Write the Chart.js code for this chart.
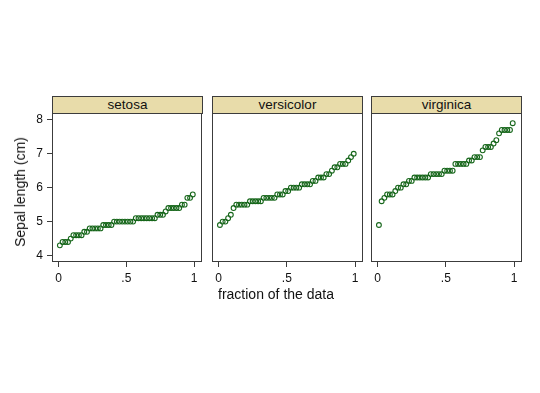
<!DOCTYPE html>
<html>
<head>
<meta charset="utf-8">
<script src="https://cdn.jsdelivr.net/npm/chart.js@4"></script>
<style>
  body { margin: 0; background: #fff; font-family: "Liberation Sans", Arial, sans-serif; }
  #wrap { position: relative; width: 540px; height: 393px; overflow: hidden; }
  canvas { position: absolute; }
  .strip { position: absolute; top: 96px; height: 18px; width: 151px; box-sizing: border-box;
           background: #e8dcaa; border: 1px solid #3c3c3c; text-align: center;
           font-size: 13.5px; line-height: 16px; color: #111; }
  .lbl { position: absolute; font-size: 14px; color: #111; white-space: nowrap; }
</style>
</head>
<body>
<div id="wrap">
  <div class="strip" style="left:52px">setosa</div>
  <div class="strip" style="left:212px">versicolor</div>
  <div class="strip" style="left:371px">virginica</div>
  <canvas id="c0" width="204" height="180" style="left:0px;top:112px"></canvas>
  <canvas id="c1" width="153" height="180" style="left:211px;top:112px"></canvas>
  <canvas id="c2" width="153" height="180" style="left:370px;top:112px"></canvas>
  <div class="lbl" style="left:276px;top:286px;transform:translateX(-50%)">fraction of the data</div>
  <div class="lbl" style="left:20px;top:192px;transform:translate(-50%,-50%) rotate(-90deg)">Sepal length (cm)</div>
</div>
<script>
// sorted sepal lengths per species
const setosa = [4.3,4.4,4.4,4.4,4.5,4.6,4.6,4.6,4.6,4.7,4.7,4.8,4.8,4.8,4.8,4.8,4.9,4.9,4.9,4.9,
  5.0,5.0,5.0,5.0,5.0,5.0,5.0,5.0,5.1,5.1,5.1,5.1,5.1,5.1,5.1,5.1,5.2,5.2,5.2,5.3,
  5.4,5.4,5.4,5.4,5.4,5.5,5.5,5.7,5.7,5.8];
const versicolor = [4.9,5.0,5.0,5.1,5.2,5.4,5.5,5.5,5.5,5.5,5.5,5.6,5.6,5.6,5.6,5.6,5.7,5.7,5.7,5.7,
  5.7,5.8,5.8,5.8,5.9,5.9,6.0,6.0,6.0,6.0,6.1,6.1,6.1,6.1,6.2,6.2,6.3,6.3,6.3,6.4,
  6.4,6.5,6.6,6.6,6.7,6.7,6.7,6.8,6.9,7.0];
const virginica = [4.9,5.6,5.7,5.8,5.8,5.8,5.9,6.0,6.0,6.1,6.1,6.2,6.2,6.3,6.3,6.3,6.3,6.3,6.3,6.4,
  6.4,6.4,6.4,6.4,6.5,6.5,6.5,6.5,6.7,6.7,6.7,6.7,6.7,6.8,6.8,6.9,6.9,6.9,7.1,7.2,
  7.2,7.2,7.3,7.4,7.6,7.7,7.7,7.7,7.7,7.9];
const species = ['setosa', 'versicolor', 'virginica'];
const yTicks = [4, 5, 6, 7, 8];
const xTicks = [0, 0.5, 1];
const xTickLabels = ['0', '.5', '1'];

const frame = {
  id: 'frame',
  afterDraw(chart) {
    const a = chart.chartArea, ctx = chart.ctx;
    ctx.save();
    ctx.strokeStyle = '#3c3c3c';
    ctx.lineWidth = 1;
    ctx.strokeRect(Math.round(a.left) + 0.5, Math.round(a.top) + 0.5,
      Math.round(a.right - a.left) - 1, Math.round(a.bottom - a.top) - 1);
    ctx.restore();
  }
};

function noPad(s) {
  s.paddingTop = 0; s.paddingBottom = 0; s.paddingLeft = 0; s.paddingRight = 0;
}

function panel(id, values, first) {
  const n = values.length;
  const pts = values.map((v, i) => ({ x: (i + 0.5) / n, y: v }));
  new Chart(document.getElementById(id), {
    type: 'scatter',
    data: { datasets: [{
      data: pts,
      pointStyle: 'circle',
      pointRadius: 2.4,
      pointBorderWidth: 1.1,
      pointBorderColor: '#16661a',
      pointBackgroundColor: 'rgba(0,0,0,0)'
    }] },
    options: {
      responsive: false,
      animation: false,
      devicePixelRatio: 1,
      layout: { autoPadding: false,
                padding: { left: first ? 0 : 1, right: first ? 2 : 1, top: 1, bottom: 0 } },
      plugins: { legend: { display: false }, tooltip: { enabled: false } },
      scales: {
        x: {
          type: 'linear', min: -0.048, max: 1.058,
          afterBuildTicks: s => { s.ticks = xTicks.map(v => ({ value: v })); },
          afterFit: s => { s.height = 30; noPad(s); },
          ticks: { callback: (v) => xTickLabels[xTicks.indexOf(v)], color: '#111', maxRotation: 0,
                   font: { family: 'Liberation Sans', size: 12 }, padding: 4 },
          grid: { drawOnChartArea: false, drawTicks: true, tickLength: 5, color: '#3c3c3c' },
          border: { display: false }
        },
        y: {
          type: 'linear', min: 3.81, max: 8.2,
          display: first,
          afterBuildTicks: s => { s.ticks = yTicks.map(v => ({ value: v })); },
          afterFit: s => { s.width = first ? 52 : 0; noPad(s); },
          ticks: { color: '#111', font: { family: 'Liberation Sans', size: 12 }, padding: 4 },
          grid: { drawOnChartArea: false, drawTicks: true, tickLength: 5, color: '#3c3c3c' },
          border: { display: false }
        }
      }
    },
    plugins: [frame]
  });
}

panel('c0', setosa, true);
panel('c1', versicolor, false);
panel('c2', virginica, false);
</script>
</body>
</html>
